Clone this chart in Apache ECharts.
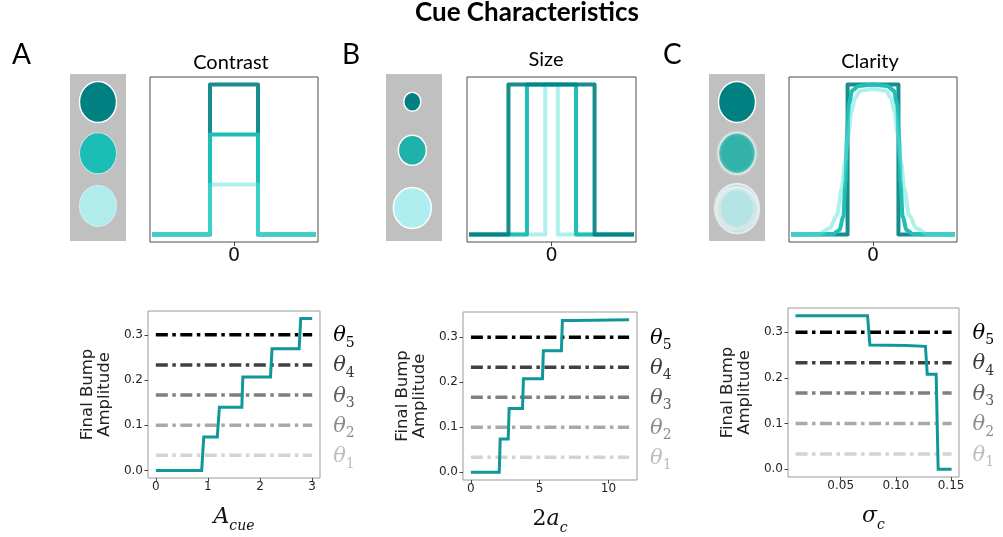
<!DOCTYPE html>
<html><head><meta charset="utf-8">
<script src="https://cdn.jsdelivr.net/npm/echarts@6/dist/echarts.min.js"></script>
<style>html,body{margin:0;padding:0;background:#fff}#c{width:1003px;height:537px}</style>
</head><body><div id="c"></div>
<script>
// ================= DATA =================
// Top row: cue profiles (x position, profile height)
const contrastHigh = [[-1,0],[-0.3,0],[-0.3,1],[0.3,1],[0.3,0],[1,0]];
const contrastMid  = [[-1,0],[-0.3,0],[-0.3,0.667],[0.3,0.667],[0.3,0],[1,0]];
const contrastLow  = [[-1,0],[-0.3,0],[-0.3,0.333],[0.3,0.333],[0.3,0],[1,0]];

const sizeWide   = [[-1,0],[-0.535,0],[-0.535,1],[0.535,1],[0.535,0],[1,0]];
const sizeMedium = [[-1,0],[-0.305,0],[-0.305,1],[0.305,1],[0.305,0],[1,0]];
const sizeNarrow = [[-1,0],[-0.078,0],[-0.078,1],[0.078,1],[0.078,0],[1,0]];

const claritySharp = [[-1,0],[-0.318,0],[-0.318,1],[0.318,1],[0.318,0],[1,0]];
const clarityMid = [[-1,0],[-0.5,0.003],[-0.42,0.03],[-0.37,0.12],[-0.345,0.35],[-0.325,0.65],[-0.3,0.87],[-0.26,0.96],[-0.18,0.99],[0,1],
                    [0.18,0.99],[0.26,0.96],[0.3,0.87],[0.325,0.65],[0.345,0.35],[0.37,0.12],[0.42,0.03],[0.5,0.003],[1,0]];
const clarityBlur = [[-1,0],[-0.68,0.002],[-0.54,0.042],[-0.45,0.131],[-0.39,0.309],[-0.35,0.487],[-0.31,0.664],[-0.27,0.82],[-0.225,0.909],[-0.16,0.958],[0,0.97],
                     [0.16,0.958],[0.225,0.909],[0.27,0.82],[0.31,0.664],[0.35,0.487],[0.39,0.309],[0.45,0.131],[0.54,0.042],[0.68,0.002],[1,0]];

// Cue circle vertical positions (fraction of the grey panel)
const contrastCueY = [0.832, 0.525, 0.21];
const sizeCueY     = [0.834, 0.543, 0.198];
const clarityCueY  = [0.832, 0.525, 0.195];

// Bottom row: final bump amplitude step curves
const aCue       = [0, 0.88, 0.92, 1.18, 1.22, 1.65, 1.67, 2.2, 2.23, 2.75, 2.78, 3];
const ampContrast= [0, 0, 0.074, 0.074, 0.14, 0.14, 0.207, 0.207, 0.269, 0.269, 0.336, 0.336];

const twoAc      = [0, 2.06, 2.13, 2.71, 2.78, 3.75, 3.82, 5.2, 5.27, 6.58, 6.65, 7.62, 7.7, 11.5];
const ampSize    = [0, 0, 0.074, 0.074, 0.142, 0.142, 0.208, 0.208, 0.27, 0.27, 0.337, 0.337, 0.339, 0.339];

const sigmaC     = [0.009, 0.0743, 0.0764, 0.1094, 0.1268, 0.1284, 0.1365, 0.1383, 0.1505];
const ampClarity = [0.336, 0.336, 0.272, 0.271, 0.269, 0.208, 0.208, 0, 0];

// Thresholds theta_1 .. theta_5 and tick values
const thetas = [0.0333, 0.1, 0.1667, 0.2333, 0.3];
const yTicks = [0, 0.1, 0.2, 0.3];
const xTicksA = [0, 1, 2, 3];
const xTicksB = [0, 5, 10];
const xTicksC = [0.05, 0.10, 0.15];

// ================= STYLE =================
const DARK = 'rgba(0,128,128,0.9)';
const MID = '#1fbfb6';
const LIGHT = 'rgba(92,225,218,0.5)';
const STEP = '#11979a';
const thetaLine = ['#d3d3d3','#a9a9a9','#7f7f7f','#404040','#000000'];
const thetaText = ['#bdbdbd','#8c8c8c','#5e5e5e','#3c3c3c','#000000'];

const zip = (xs, ys) => xs.map((x, i) => [x, ys[i]]);

const grids = [
  {left:70,  top:74, width:56,  height:167, show:true, backgroundColor:'#c0c0c0', borderWidth:0},
  {left:150, top:77, width:168, height:165, show:true, borderColor:'#4d4d4d', borderWidth:1},
  {left:386, top:74, width:56,  height:167, show:true, backgroundColor:'#c0c0c0', borderWidth:0},
  {left:467, top:77, width:169, height:165, show:true, borderColor:'#4d4d4d', borderWidth:1},
  {left:709, top:74, width:56,  height:167, show:true, backgroundColor:'#c0c0c0', borderWidth:0},
  {left:789, top:77, width:168, height:165, show:true, borderColor:'#4d4d4d', borderWidth:1},
  {left:148, top:311, width:172, height:167, show:true, borderColor:'#9a9a9a', borderWidth:1},
  {left:463, top:312, width:174, height:168, show:true, borderColor:'#9a9a9a', borderWidth:1},
  {left:788, top:308, width:171, height:169, show:true, borderColor:'#9a9a9a', borderWidth:1}
];

function hidden(g, min, max){ return {type:'value', gridIndex:g, min:min, max:max, show:false, axisLine:{onZero:false}, splitLine:{show:false}}; }
function profX(g){
  return {type:'value', gridIndex:g, min:-1.05, max:1.05, splitLine:{show:false}, axisLine:{show:false, onZero:false},
    axisTick:{show:true, customValues:[0], length:4, lineStyle:{color:'#444'}},
    axisLabel:{show:true, customValues:[0], margin:5, fontSize:19, fontFamily:'DejaVu Sans', color:'#111'}};
}
const subRich = () => ({
  a:{fontFamily:'DejaVu Serif', fontStyle:'italic', fontSize:22, color:'#111', verticalAlign:'bottom', padding:[0,0,5,0]},
  r:{fontFamily:'DejaVu Serif', fontSize:22, color:'#111', verticalAlign:'bottom', padding:[0,0,5,0]},
  b:{fontFamily:'DejaVu Serif', fontStyle:'italic', fontSize:14, color:'#111', verticalAlign:'bottom'}
});
function botX(g, min, max, ticks, name, dec){
  return {type:'value', gridIndex:g, min:min, max:max, splitLine:{show:false}, axisLine:{show:false, onZero:false},
    axisTick:{show:true, customValues:ticks, length:3.5, lineStyle:{color:'#444'}},
    axisLabel:{show:true, customValues:ticks, margin:3, fontSize:12, color:'#262626', fontFamily:'DejaVu Sans',
      formatter: v => v.toFixed(dec)},
    name:name, nameLocation:'middle', nameGap:28, nameTextStyle:{rich:subRich()}};
}
function botY(g, min, max){
  return {type:'value', gridIndex:g, min:min, max:max, splitLine:{show:false}, axisLine:{show:false, onZero:false},
    axisTick:{show:true, customValues:yTicks, length:3.5, lineStyle:{color:'#444'}},
    axisLabel:{show:true, customValues:yTicks, margin:5, fontSize:12, color:'#262626', fontFamily:'DejaVu Sans',
      formatter: v => v.toFixed(1)},
    name:'Final Bump\nAmplitude', nameLocation:'middle', nameRotate:90, nameGap:35,
    nameTextStyle:{fontSize:16.5, fontFamily:'DejaVu Sans', color:'#222'}};
}

const xAxes = [
  hidden(0,0,1), profX(1), hidden(2,0,1), profX(3), hidden(4,0,1), profX(5),
  botX(6, -0.15, 3.15, xTicksA, '{a|A}{b|cue}', 0),
  botX(7, -0.575, 12.075, xTicksB, '{r|2}{a|a}{b|c}', 0),
  botX(8, 0.0022, 0.1572, xTicksC, '{a|σ}{b|c}', 2)
];
const yAxes = [
  hidden(0,0,1), hidden(1,-0.05,1.05), hidden(2,0,1), hidden(3,-0.05,1.05), hidden(4,0,1), hidden(5,-0.05,1.05),
  botY(6, -0.0168, 0.3528), botY(7, -0.017, 0.356), botY(8, -0.0168, 0.3528)
];

const series = [];
function prof(g, data, color, smooth){
  series.push({type:'line', xAxisIndex:g, yAxisIndex:g, data:data, showSymbol:false, symbol:'none', smooth:smooth||false,
    smoothMonotone:'x', lineStyle:{color:color, width:4, join:'round', cap:'square'}, silent:true, animation:false});
}
// contrast: dark, mid, light on top
prof(1, contrastHigh, DARK); prof(1, contrastMid, MID); prof(1, contrastLow, LIGHT);
// size: light, mid, dark on top
prof(3, sizeNarrow, LIGHT); prof(3, sizeMedium, MID); prof(3, sizeWide, DARK);
// clarity
prof(5, claritySharp, DARK); prof(5, clarityMid, MID, 0.3); prof(5, clarityBlur, LIGHT, 0.3);

// cue circles
function cues(g, ys, styles){
  series.push({type:'scatter', xAxisIndex:g, yAxisIndex:g, silent:true, animation:false,
    data: ys.map((y, i) => ({value:[styles[i].x || 0.5, y], symbolSize:styles[i].size,
      itemStyle:Object.assign({opacity:1}, styles[i].style)}))});
}
cues(0, contrastCueY, [
  {size:[37,41], style:{color:'#008080', borderColor:'#ffffff', borderWidth:1.5}},
  {size:[37,41], style:{color:'#1bbdb4', borderColor:'#c8e6e4', borderWidth:1}},
  {size:[37,41], style:{color:'#b0ecec', borderColor:'#d2eeee', borderWidth:1}}
]);
cues(2, sizeCueY, [
  {x:0.47, size:[17,19], style:{color:'#008080', borderColor:'#ffffff', borderWidth:1.5}},
  {x:0.47, size:[28,30], style:{color:'#20b2aa', borderColor:'#ffffff', borderWidth:1.5}},
  {x:0.47, size:[38,41], style:{color:'#afeeee', borderColor:'#ffffff', borderWidth:1.5}}
]);
// blurred rings for the least-clear cue
const blurOffsets = [[-0.03,0.008],[0.03,-0.008],[0.0,0.012],[0.02,0.01],[-0.02,-0.01],[0.01,-0.014]];
series.push({type:'scatter', xAxisIndex:4, yAxisIndex:4, silent:true, animation:false,
  data: blurOffsets.map(o => [0.5 + o[0], clarityCueY[2] + o[1]]),
  symbolSize:[42,46], itemStyle:{opacity:1, color:'rgba(205,232,232,0.35)', borderColor:'rgba(240,248,248,0.6)', borderWidth:1.2}});
cues(4, clarityCueY, [
  {size:[37,41], style:{color:'#008080', borderColor:'#ffffff', borderWidth:1.5}},
  {size:[37,41], style:{color:'#33b2a9', borderColor:'rgba(225,240,238,0.8)', borderWidth:1.5, shadowBlur:3, shadowColor:'rgba(255,255,255,0.8)'}},
  {size:[32,36], style:{color:'rgba(176,226,226,0.9)', shadowBlur:4, shadowColor:'rgba(220,240,240,0.9)'}}
]);

// thresholds + step curves
function bottom(g, xs, ys){
  const x0 = xs[0], x1 = xs[xs.length-1];
  thetas.forEach((t, i) => {
    series.push({type:'line', xAxisIndex:g, yAxisIndex:g, data:[[x0,t],[x1,t]], showSymbol:false, symbol:'none',
      silent:true, animation:false,
      lineStyle:{color:thetaLine[i], width:3.5, type:[12,4.5,3.5,4.5]},
      endLabel:{show:true, distance:21, offset:[0,3], formatter:'{t|θ}{s|' + (i+1) + '}',
        rich:{t:{fontFamily:'DejaVu Serif', fontStyle:'italic', fontSize:21, color:thetaText[i], verticalAlign:'bottom', padding:[0,0,4,0]},
              s:{fontFamily:'DejaVu Serif', fontSize:14, color:thetaText[i], verticalAlign:'bottom'}}}});
  });
  series.push({type:'line', xAxisIndex:g, yAxisIndex:g, data:zip(xs, ys), showSymbol:false, symbol:'none',
    silent:true, animation:false, lineStyle:{color:STEP, width:3, join:'miter'}});
}
bottom(6, aCue, ampContrast);
bottom(7, twoAc, ampSize);
bottom(8, sigmaC, ampClarity);

const titleFont = {fontFamily:'Lato', fontWeight:'normal', color:'#000'};
const titles = [
  {text:'Cue Characteristics', left:527, top:0, textAlign:'center', padding:0, textStyle:{fontFamily:'Lato', fontWeight:'bold', fontSize:26, color:'#000'}},
  {text:'A', left:12, top:41, padding:0, textStyle:Object.assign({fontSize:28}, titleFont)},
  {text:'B', left:342, top:41, padding:0, textStyle:Object.assign({fontSize:28}, titleFont)},
  {text:'C', left:663, top:41, padding:0, textStyle:Object.assign({fontSize:28}, titleFont)},
  {text:'Contrast', left:231, top:53, textAlign:'center', padding:0, textStyle:Object.assign({fontSize:20}, titleFont)},
  {text:'Size', left:546, top:49.5, textAlign:'center', padding:0, textStyle:Object.assign({fontSize:20}, titleFont)},
  {text:'Clarity', left:870, top:51.5, textAlign:'center', padding:0, textStyle:Object.assign({fontSize:20}, titleFont)}
];

const chart = echarts.init(document.getElementById('c'));
chart.setOption({animation:false, backgroundColor:'#ffffff', title:titles, grid:grids, xAxis:xAxes, yAxis:yAxes, series:series});
</script></body></html>
